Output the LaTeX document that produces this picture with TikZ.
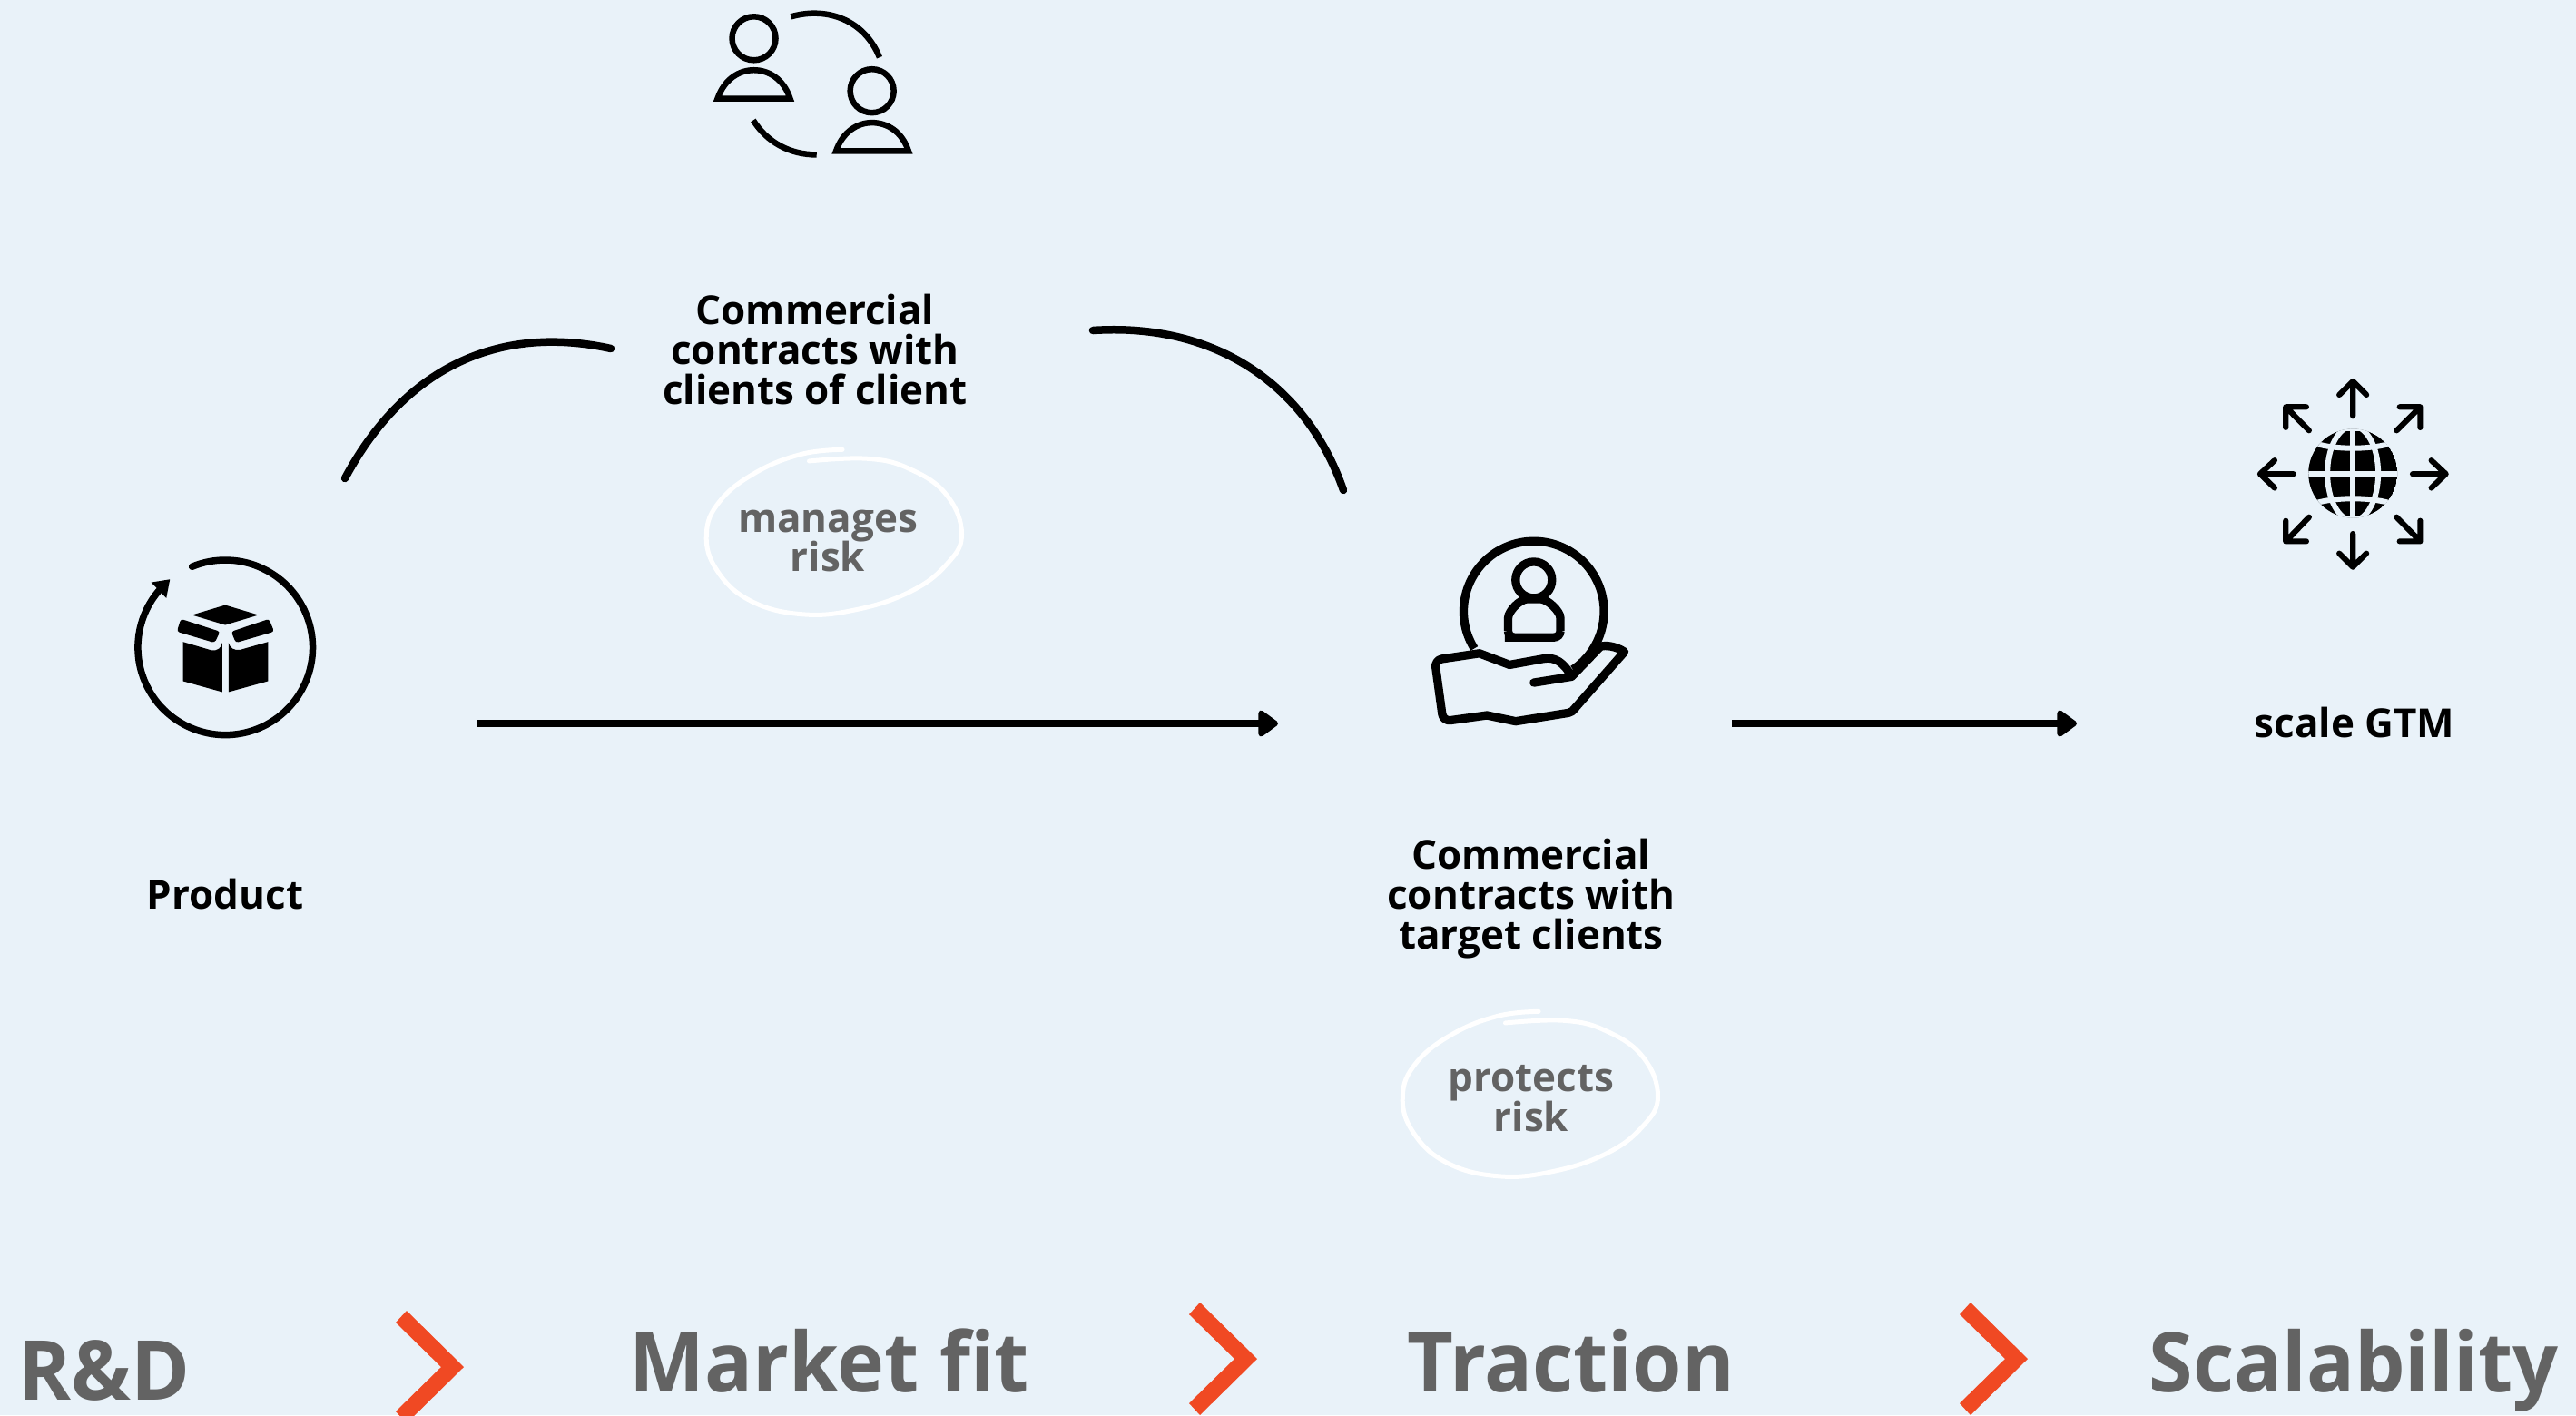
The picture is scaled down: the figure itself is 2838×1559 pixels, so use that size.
\documentclass[tikz,border=0pt]{standalone}
\usepackage{fontspec}
\setmainfont{Open Sans}
\newfontfamily\stagefont[FakeStretch=0.965]{Open Sans}
\usetikzlibrary{arrows.meta}
\definecolor{bgc}{HTML}{E9F2F9}
\definecolor{greyc}{HTML}{636363}
\definecolor{orangec}{HTML}{F04923}
\newdimen\upx \upx=0.01cm
\newcommand\labelfont{\fontsize{12.5}{12.4}\selectfont\bfseries\setlength{\lineskiplimit}{-20pt}\relax}
\newcommand\scribble[1]{%
  \begin{scope}[shift={#1},x=0.003333cm,y=-0.003333cm]
    \draw[white,line width=5\upx,line cap=round,line join=round]
      plot[smooth,tension=0.7] coordinates {(535,40)(400,55)(250,115)(130,210)(85,320)(120,440)(230,540)(400,585)(580,570)(760,510)(880,420)(930,320)(880,190)(760,105)(620,70)(425,78)};
  \end{scope}}
\newcommand\chevron[1]{%
  \fill[orangec,shift={#1}] (448,1444) -- (511,1506) -- (448,1568) -- (436,1555) -- (486,1506) -- (436,1457) -- cycle;}
\tikzset{
  blacktext/.style={font=\labelfont,text=black,align=center,inner sep=0pt},
  greytext/.style={font=\labelfont,text=greyc,align=center,inner sep=0pt},
  stagetext/.style={font=\stagefont\fontsize{25.9}{30}\selectfont\bfseries,text=greyc,anchor=base west,inner sep=0pt},
  curveline/.style={line width=8.5\upx,line cap=round},
  flowarrow/.style={line width=8.5\upx,-{Triangle[length=6.8pt,width=9.4pt,round]}},
  iconline/.style={line width=6.5\upx},
  zoomed/.style={x=0.003333cm,y=-0.003333cm},
}
\begin{document}
\begin{tikzpicture}[x=0.01cm,y=-0.01cm]
\useasboundingbox (0,0) rectangle (2838,1559);
\clip (0,0) rectangle (2838,1559);
\fill[bgc] (0,0) rectangle (2838,1559);

% labels
\node[blacktext] (clientsclient) at (898,385) {Commercial\\contracts with\\clients of client};
\node[blacktext] (targetclients) at (1687,990) {Commercial\\contracts with\\target clients};
\node[blacktext] (product) at (248,985) {Product};
\node[blacktext] (scalegtm) at (2594,796) {scale GTM};
\node[greytext] (manages) at (912,596) {manages\\risk};
\node[greytext] (protects) at (1687,1210) {protects\\risk};
\scribble{(750,482)}
\scribble{(1517,1101)}

% connectors
\coordinate (a1) at (380,527);
\coordinate (a2) at (673,384);
\coordinate (b1) at (1204,364);
\coordinate (b2) at (1480,540);
\coordinate (c1) at (525,797);
\coordinate (c2) at (1408,797);
\coordinate (d1) at (1908,797);
\coordinate (d2) at (2288,797);
\draw[curveline] (a1) .. controls (448,400) and (555,358) .. (a2);
\draw[curveline] (b1) .. controls (1340,355) and (1440,425) .. (b2);
\draw[flowarrow] (c1) -- (c2);
\draw[flowarrow] (d1) -- (d2);

% people icon
\begin{scope}[shift={(740,0)},zoomed]
  \draw[iconline] (272,127) circle[radius=24\upx];
  \draw[iconline] (663,301) circle[radius=24\upx];
  \draw[iconline,line join=miter] (152,326) .. controls (175,260) and (225,232) .. (272,232) .. controls (320,232) and (370,260) .. (392,326) -- cycle;
  \draw[iconline,line join=miter] (544,500) .. controls (567,434) and (617,406) .. (663,406) .. controls (712,406) and (762,434) .. (784,500) -- cycle;
  \draw[iconline] (395,55) .. controls (520,20) and (640,70) .. (688,190);
  \draw[iconline] (270,398) .. controls (315,470) and (390,512) .. (480,512);
\end{scope}

% box icon
\begin{scope}[shift={(130,590)},zoomed]
  \draw[line width=7.5\upx,line cap=round] (245,103) arc[start angle=112.4,end angle=-226,radius=96.3\upx];
  \fill (172,145) -- (110,155) -- (160,207) -- cycle;
  \fill (245,263) -- (355,230) -- (465,263) -- (355,296) -- cycle;
  \fill[rounded corners=3\upx] (208,276) -- (338,318) -- (320,355) -- (195,318) -- cycle;
  \fill[rounded corners=3\upx] (500,276) -- (375,318) -- (390,355) -- (517,318) -- cycle;
  \fill (215,352) -- (310,380) .. controls (330,382) and (342,372) .. (345,355) -- (345,518) -- (215,482) -- cycle;
  \fill (366,355) .. controls (370,372) and (385,382) .. (405,378) -- (497,352) -- (497,482) -- (366,518) -- cycle;
\end{scope}

% hand icon
\begin{scope}[shift={(1550,580)},zoomed]
  \draw[line width=9.3\upx] (223,404) arc[start angle=212,end angle=-56,radius=77.3\upx];
  \draw[line width=9.3\upx] (420,177) circle[radius=20\upx];
  \draw[line width=9.3\upx,rounded corners=7\upx] (345,367) -- (508,367) -- (508,325) .. controls (508,280) and (465,240) .. (420,240) .. controls (375,240) and (335,280) .. (335,325) -- (335,367) -- cycle;
  \draw[line width=9.3\upx,line cap=round,line join=round,fill=none]
    (420,517) -- (545,497) .. controls (520,450) and (490,430) .. (450,438) -- (340,458) -- (240,420)
    [rounded corners=8\upx] -- (92,442) -- (120,645) [sharp corners] -- (265,625) -- (360,645) -- (535,617) .. controls (545,615) and (550,610) .. (555,603) -- (720,415) .. controls (690,395) and (655,392) .. (640,398) -- (545,497);
\end{scope}

% globe icon
\begin{scope}[shift={(2470,410)},zoomed]
  \begin{scope}
    \clip (220,335) arc[start angle=180,end angle=-180,radius=49\upx];
    \fill (367,335) circle[radius=49\upx];
    \draw[bgc,line width=6\upx] (210,335) -- (524,335);
    \draw[bgc,line width=6\upx] (367,180) -- (367,490);
    \draw[bgc,line width=6\upx] (367,335) ellipse[x radius=28\upx,y radius=52\upx];
    \draw[bgc,line width=6\upx] (230,232) .. controls (300,258) and (434,258) .. (504,232);
    \draw[bgc,line width=6\upx] (230,438) .. controls (300,412) and (434,412) .. (504,438);
    \draw[bgc,line width=4\upx] (220,190) -- (514,190);
    \draw[bgc,line width=4\upx] (220,480) -- (514,480);
  \end{scope}
  \begin{scope}[line width=6.2\upx,line cap=round,line join=round]
    \draw (367,145) -- (367,30) (322,75) -- (367,30) -- (412,75);
    \draw (565,337) -- (675,337) (627,292) -- (675,337) -- (627,383);
    \draw (367,535) -- (367,645) (322,600) -- (367,645) -- (412,600);
    \draw (170,337) -- (60,337) (108,292) -- (60,337) -- (108,383);
    \draw (512,193) -- (590,115) (522,115) -- (590,115) -- (590,183);
    \draw (222,193) -- (145,115) (213,115) -- (145,115) -- (145,183);
    \draw (512,480) -- (590,560) (590,492) -- (590,560) -- (522,560);
    \draw (222,480) -- (145,560) (145,492) -- (145,560) -- (213,560);
  \end{scope}
\end{scope}

% stage row
\node[stagetext] (rd) at (20,1542) {R\&D};
\node[stagetext] (marketfit) at (693,1533) {Market fit};
\node[stagetext] (traction) at (1550,1533) {Traction};
\node[stagetext] (scalability) at (2367,1533) {Scalability};
\chevron{(0,0)}
\chevron{(874,-9)}
\chevron{(1723,-9)}
\end{tikzpicture}
\end{document}
